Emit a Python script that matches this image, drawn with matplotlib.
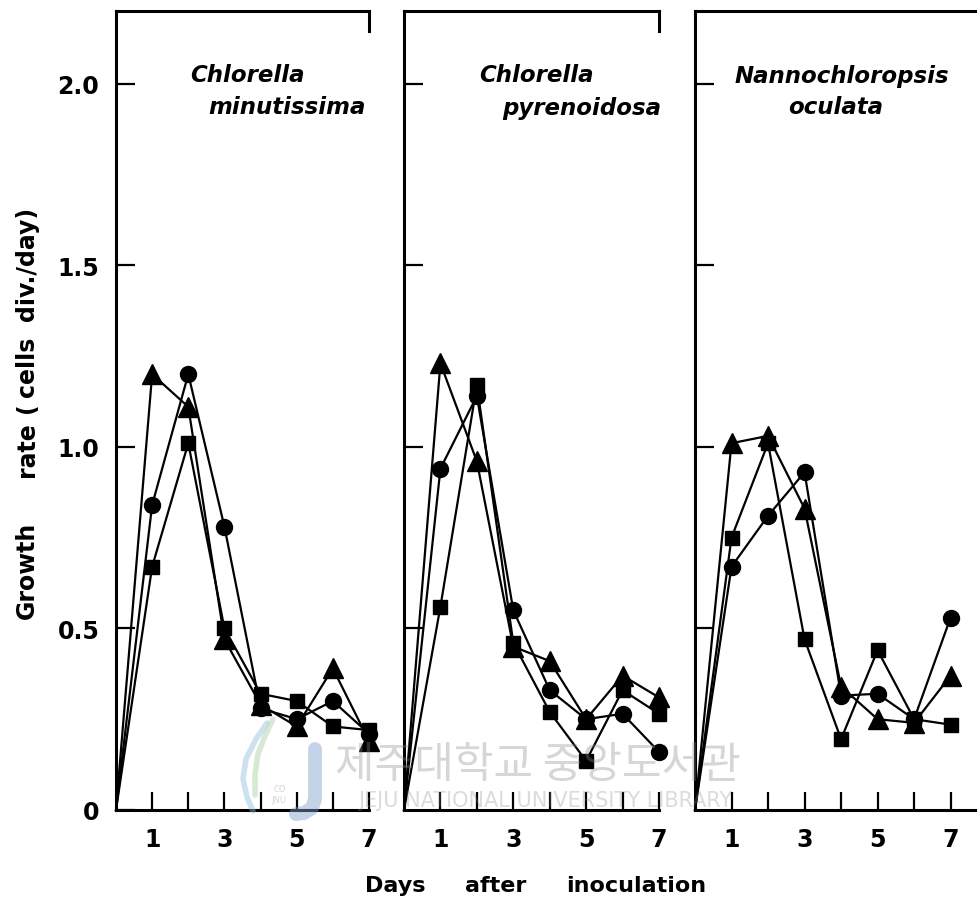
import matplotlib
matplotlib.use("Agg")
import matplotlib.pyplot as plt
from matplotlib.lines import Line2D

# growth rate (cells div./day) on each day after inoculation; every curve starts at 0
days = [0, 1, 2, 3, 4, 5, 6, 7]

species_line1 = ["Chlorella", "Chlorella", "Nannochloropsis"]
species_line2 = ["minutissima", "pyrenoidosa", "oculata"]

circle_c_min = [0, 0.84, 1.20, 0.78, 0.28, 0.25, 0.30, 0.21]
square_c_min = [0, 0.67, 1.01, 0.50, 0.32, 0.30, 0.23, 0.22]
triangle_c_min = [0, 1.20, 1.11, 0.47, 0.29, 0.23, 0.39, 0.19]

circle_c_pyr = [0, 0.94, 1.14, 0.55, 0.33, 0.25, 0.265, 0.16]
square_c_pyr = [0, 0.56, 1.17, 0.46, 0.27, 0.135, 0.33, 0.265]
triangle_c_pyr = [0, 1.23, 0.96, 0.45, 0.41, 0.25, 0.37, 0.31]

circle_n_ocu = [0, 0.67, 0.81, 0.93, 0.315, 0.32, 0.25, 0.53]
square_n_ocu = [0, 0.75, 1.01, 0.47, 0.195, 0.44, 0.25, 0.235]
triangle_n_ocu = [0, 1.01, 1.03, 0.83, 0.34, 0.25, 0.24, 0.37]

circles = [circle_c_min, circle_c_pyr, circle_n_ocu]
squares = [square_c_min, square_c_pyr, square_n_ocu]
triangles = [triangle_c_min, triangle_c_pyr, triangle_n_ocu]

ytick_vals = [0, 0.5, 1.0, 1.5, 2.0]
ytick_text = ["0", "0.5", "1.0", "1.5", "2.0"]
xtick_vals = [1, 2, 3, 4, 5, 6, 7]
xtick_text = ["1", "", "3", "", "5", "", "7"]

W, H = 978, 903
fig = plt.figure(figsize=(W / 100, H / 100), dpi=100)
fig.patch.set_facecolor("white")


def px(x, y):
    """Pixel position (from top-left) -> figure fraction."""
    return x / W, 1 - y / H


# panel boxes in pixels: (left, right, xmax in days)
panels = [(116, 369, 7.0), (404, 659, 7.0), (695, 978, 7.75)]
y_bot, y_top = 811, 12
# species name placement in pixels: (x line1, x line2, ha)
title_px = [(190, 208, "left"), (479, 502, "left"), (842, 836, "center")]

fs_tick = 17
for i, (l, r, xmax) in enumerate(panels):
    ax = fig.add_axes([l / W, 1 - y_bot / H, (r - l) / W, (y_bot - y_top) / H])
    ax.set_xlim(0, xmax)
    ax.set_ylim(0, 2.2)
    every = list(range(1, len(days)))
    ax.plot(days, squares[i], color="black", lw=1.6, marker="s", ms=10.5,
            markevery=every, clip_on=False, zorder=3)
    ax.plot(days, circles[i], color="black", lw=1.6, marker="o", ms=11.5,
            markevery=every, clip_on=False, zorder=3)
    ax.plot(days, triangles[i], color="black", lw=1.6, marker="^", ms=14,
            markevery=every, clip_on=False, zorder=3)

    for s in ["left", "bottom", "top"]:
        ax.spines[s].set_linewidth(2.2)
    if i < 2:
        ax.spines["right"].set_linewidth(2.2)
        ax.spines["right"].set_bounds(2.145, 2.2)
    else:
        ax.spines["right"].set_visible(False)

    ax.set_xticks(xtick_vals)
    ax.set_xticklabels(xtick_text, fontsize=fs_tick, fontweight="bold")
    ax.tick_params(axis="x", direction="in", length=13, width=1.6, pad=12)
    ax.set_yticks(ytick_vals[1:] if i else ytick_vals)
    if i == 0:
        ax.set_yticklabels(ytick_text, fontsize=fs_tick, fontweight="bold")
        ax.tick_params(axis="y", direction="in", length=14, width=1.6, pad=12)
    else:
        ax.set_yticklabels([])
        ax.tick_params(axis="y", direction="in", length=14, width=1.6)

    x1, x2, ha = title_px[i]
    tkw = dict(ha=ha, va="center", fontsize=16.5, fontweight="bold", fontstyle="italic")
    fig.text(*px(x1, 76), species_line1[i], **tkw)
    fig.text(*px(x2, 108), species_line2[i], **tkw)

# axis titles, word by word
lkw = dict(ha="center", va="center", fontsize=17, fontweight="bold")
for word, y in [("Growth", 570), ("rate", 450), ("(", 408), ("cells", 367), ("div./day)", 264)]:
    fig.text(*px(27, y), word, rotation=90, **lkw)
lkw["fontsize"] = 16
for word, x in [("Days", 395), ("after", 496), ("inoculation", 636)]:
    fig.text(*px(x, 886), word, **lkw)

# library watermark, laid over the panels
fig.text(*px(538, 766), "제주대학교 중앙도서관", ha="center", va="center", fontsize=31,
         family=["Noto Sans CJK KR", "DejaVu Sans"], color="#8a8a8a", alpha=0.35,
         zorder=5)
fig.text(*px(545, 801), "JEJU NATIONAL UNIVERSITY LIBRARY", ha="center", va="center",
         fontsize=15, color="#8a8a8a", alpha=0.3, zorder=5)
logo = [
    ([315, 315, 312, 304, 296], [750, 800, 809, 814, 815], "#7f9fd0", 10),
    ([267, 256, 246, 243, 247, 253], [724, 740, 760, 780, 798, 812], "#8fbfe0", 4),
    ([273, 265, 258, 255, 255], [720, 737, 755, 775, 796], "#a8d0a0", 4),
]
for xs, ys, col, lw in logo:
    pts = [px(x, y) for x, y in zip(xs, ys)]
    fig.add_artist(Line2D([p[0] for p in pts], [p[1] for p in pts], color=col, lw=lw,
                          alpha=0.45, solid_capstyle="round", zorder=5))
fig.text(*px(280, 790), "CO", ha="center", va="center", fontsize=6, color="#8a8a8a",
         alpha=0.35, zorder=5)
fig.text(*px(279, 801), "JNU", ha="center", va="center", fontsize=6, color="#8a8a8a",
         alpha=0.35, zorder=5)

fig.savefig("out.png", dpi=100)
